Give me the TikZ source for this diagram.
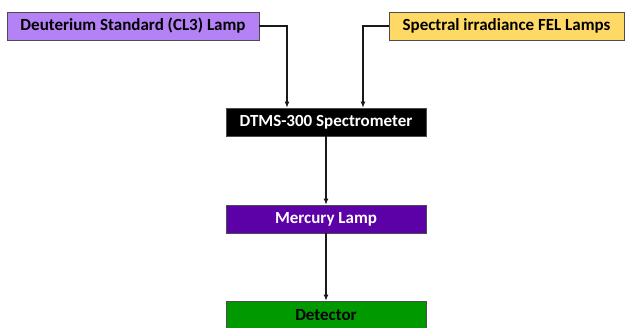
\documentclass[tikz,border=0pt]{standalone}
\usepackage{fontspec}
\setmainfont{Carlito}
\usetikzlibrary{arrows.meta,calc,positioning}
\definecolor{deutfill}{HTML}{B482F5}
\definecolor{felfill}{HTML}{FFD966}
\definecolor{hgfill}{HTML}{5C00A8}
\definecolor{detfill}{HTML}{009A00}
\tikzset{
  src/.style={rectangle,draw=black!70,line width=.6pt,minimum height=28pt,inner sep=0pt,font=\fontsize{17}{20}\selectfont\bfseries},
  blk/.style={src,minimum width=200pt},
  arr/.style={-{Latex[length=6pt,width=5pt]},line width=1.5pt,draw=black!90},
}
\begin{document}
\begin{tikzpicture}[x=1pt,y=-1pt]
\useasboundingbox (0,0) rectangle (625,328);
% ---------- sources ----------
\node[src,fill=deutfill,minimum width=252pt] (deut) at (133,26) {Deuterium Standard (CL3) Lamp};
\node[src,fill=felfill,minimum width=235pt] (fel) at (506.5,26) {Spectral irradiance FEL Lamps};
% ---------- chain ----------
\node[blk,fill=black,text=white] (dtms) at (326,122) {DTMS-300 Spectrometer};
\node[blk,fill=hgfill,text=white] (hg) at (326,219) {Mercury Lamp};
\node[blk,fill=detfill] (det) at (326,315) {Detector};
\draw[arr] (deut.east) -| ([xshift=-39pt]dtms.north);
\draw[arr] (fel.west) -| ([xshift=37pt]dtms.north);
\draw[arr] (dtms) -- (hg);
\draw[arr] (hg) -- (det);
\end{tikzpicture}
\end{document}
